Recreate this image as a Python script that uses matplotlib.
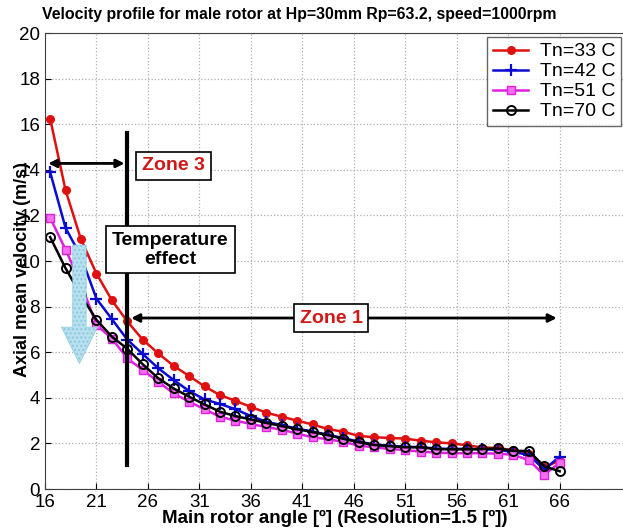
import matplotlib.pyplot as plt
import matplotlib.patches as mpatches
import numpy as np

plt.rcParams['font.family'] = ['Liberation Sans', 'DejaVu Sans']

# rotor angle, deg (resolution 1.5)
angle = [16.5, 18, 19.5, 21, 22.5, 24, 25.5, 27, 28.5, 30, 31.5, 33, 34.5, 36,
         37.5, 39, 40.5, 42, 43.5, 45, 46.5, 48, 49.5, 51, 52.5, 54, 55.5, 57,
         58.5, 60, 61.5, 63, 64.5, 66]

v33 = [16.25, 13.1, 10.95, 9.45, 8.28, 7.35, 6.55, 5.95, 5.4, 4.96, 4.5, 4.12,
       3.87, 3.6, 3.35, 3.17, 3.0, 2.83, 2.63, 2.51, 2.33, 2.27, 2.24, 2.21,
       2.12, 2.05, 2.0, 1.92, 1.82, 1.8, 1.7, 1.55, 0.95, 1.25]
v42 = [13.9, 11.45, 10.2, 8.35, 7.45, 6.55, 5.92, 5.3, 4.78, 4.3, 3.93, 3.73,
       3.5, 3.2, 2.95, 2.8, 2.65, 2.52, 2.38, 2.23, 2.08, 1.95, 1.9, 1.85,
       1.84, 1.77, 1.76, 1.76, 1.74, 1.72, 1.62, 1.5, 0.85, 1.42]
v51 = [11.9, 10.5, 9.0, 7.2, 6.6, 5.73, 5.22, 4.71, 4.19, 3.83, 3.5, 3.17,
       3.0, 2.85, 2.72, 2.6, 2.43, 2.27, 2.18, 2.07, 1.9, 1.83, 1.75, 1.71,
       1.64, 1.6, 1.57, 1.57, 1.57, 1.55, 1.5, 1.27, 0.62, 1.15]
v70 = [11.05, 9.68, 8.5, 7.42, 6.68, 6.15, 5.47, 4.86, 4.41, 4.05, 3.71, 3.39,
       3.2, 3.05, 2.9, 2.76, 2.62, 2.5, 2.36, 2.2, 2.05, 1.93, 1.88, 1.83,
       1.83, 1.75, 1.74, 1.74, 1.75, 1.78, 1.67, 1.67, 1.0, 0.78]

xticks = [16, 21, 26, 31, 36, 41, 46, 51, 56, 61, 66]
yticks = [0, 2, 4, 6, 8, 10, 12, 14, 16, 18, 20]

fig = plt.figure(figsize=(6.23, 5.29), dpi=100)
ax = fig.add_axes([0.0722, 0.0756, 0.94, 0.862])

ax.plot(angle, v33, '-o', color='#e01010', lw=1.8, ms=5.5, mfc='#e01010', label='Tn=33 C')
ax.plot(angle, v42, '-+', color='#0a0ad0', lw=1.8, ms=8, mew=1.6, label='Tn=42 C')
ax.plot(angle, v51, '-s', color='#e020e0', lw=1.8, ms=5.5, mfc='#f070f0', label='Tn=51 C')
ax.plot(angle, v70, '-o', color='black', lw=1.8, ms=6.5, mfc='none', mew=1.4, label='Tn=70 C')

ax.set_xlim(16, 72.9)
ax.set_ylim(0, 20)
ax.set_xticks(xticks)
ax.set_yticks(yticks)
ax.tick_params(direction='in', labelsize=13.5, length=4)
ax.grid(True, linestyle=':', color='#b0b0b0', lw=0.9)
ax.spines['right'].set_visible(False)
for s in ax.spines.values():
    s.set_color('#404040')

# light blue "temperature effect" arrow
arr = mpatches.FancyArrow(19.35, 10.7, 0, -5.2, width=1.3, head_width=3.5,
                          head_length=1.6, length_includes_head=True,
                          facecolor='#b8e0ee', edgecolor='#8cc8e0', hatch='....',
                          lw=0.5, zorder=5)
ax.add_patch(arr)

# zone boundary
ax.plot([24, 24], [1.05, 15.6], color='black', lw=3, zorder=6)
ax.annotate('', xy=(16.05, 14.28), xytext=(24, 14.28),
            arrowprops=dict(arrowstyle='<|-|>', color='black', lw=2, mutation_scale=12), zorder=6)
ax.annotate('', xy=(24.1, 7.5), xytext=(66, 7.5),
            arrowprops=dict(arrowstyle='<|-|>', color='black', lw=2, mutation_scale=12), zorder=6)

box = dict(boxstyle='square,pad=0.3', fc='white', ec='black', lw=1.2)
ax.text(28.5, 14.17, 'Zone 3', color='#d01818', fontsize=14, fontweight='bold',
        ha='center', va='center', bbox=box, zorder=7)
ax.text(28.2, 10.5, 'Temperature\neffect', color='black', fontsize=14, fontweight='bold',
        ha='center', va='center', bbox=dict(boxstyle='square,pad=0.3', fc='white', ec='black', lw=1.2),
        zorder=7, linespacing=1.15)
ax.text(43.8, 7.5, 'Zone 1', color='#d01818', fontsize=14, fontweight='bold',
        ha='center', va='center', bbox=box, zorder=7)

leg = ax.legend(loc='upper right', bbox_to_anchor=(0.997, 0.93), bbox_transform=fig.transFigure,
                fontsize=14, frameon=True, fancybox=False, edgecolor='#404040',
                handlelength=1.8, borderpad=0.3, labelspacing=0.12, handletextpad=0.6,
                borderaxespad=0)
leg.get_frame().set_linewidth(1.0)

fig.text(0.068, 0.972, 'Velocity profile for male rotor at Hp=30mm Rp=63.2, speed=1000rpm',
         fontsize=11.4, fontweight='bold', ha='left', va='center')
fig.text(0.036, 0.49, 'Axial mean velocity (m/s)', rotation=90, fontsize=13,
         fontweight='bold', ha='center', va='center')
fig.text(0.538, 0.02, 'Main rotor angle [º] (Resolution=1.5 [º])', fontsize=13.5,
         fontweight='bold', ha='center', va='center')

fig.savefig('out.png', dpi=100)
